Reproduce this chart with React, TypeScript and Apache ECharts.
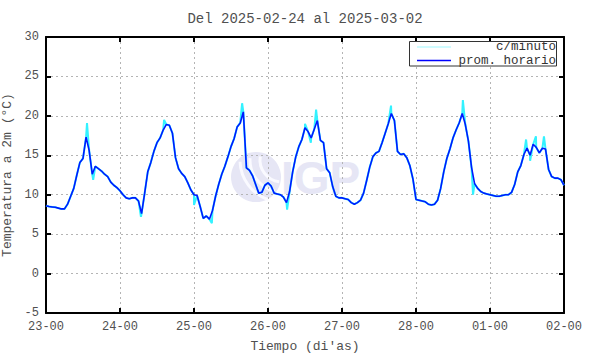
import React, { useEffect, useRef } from "react";
import * as echarts from "echarts";

const titleText = "Del 2025-02-24 al 2025-03-02";
const xAxisName = "Tiempo (di'as)";
const yAxisName = "Temperatura a 2m (°C)";
const seriesNames = ["c/minuto", "prom. horario"];
const xTickLabels = ["23-00", "24-00", "25-00", "26-00", "27-00", "28-00", "01-00", "02-00"];
const yMin = -5;
const yMax = 30;

// hourly averages, one value per hour starting at 23-00
const day1 = [8.6, 8.5, 8.45, 8.4, 8.3, 8.2, 8.2, 8.8, 9.8, 10.8, 12.5, 14.1, 14.6, 17.3, 15.6, 12.6, 13.6, 13.3, 13.0, 12.6, 12.3, 11.6, 11.2, 10.9];
const day2 = [10.5, 10.0, 9.6, 9.5, 9.6, 9.6, 9.2, 7.6, 10.2, 12.9, 14.1, 15.5, 16.6, 17.2, 18.2, 18.9, 18.8, 17.8, 14.7, 13.3, 12.7, 12.3, 11.5, 10.6];
const day3 = [10.0, 9.9, 8.5, 7.0, 7.3, 6.9, 8.0, 9.8, 11.3, 12.6, 13.6, 14.8, 16.1, 17.1, 18.6, 19.1, 20.5, 13.4, 13.1, 12.4, 11.3, 10.2, 10.3, 11.2];
const day4 = [11.5, 11.1, 10.2, 10.1, 10.0, 9.7, 9.0, 10.4, 12.9, 14.8, 16.1, 17.0, 18.5, 18.0, 17.2, 18.3, 19.4, 16.9, 16.6, 13.3, 12.8, 11.0, 9.8, 9.6];
const day5 = [9.6, 9.5, 9.4, 9.0, 8.8, 9.0, 9.3, 10.2, 11.8, 13.5, 14.8, 15.3, 15.5, 16.6, 17.8, 19.0, 20.3, 19.4, 15.5, 15.1, 15.2, 14.7, 13.7, 12.0];
const day6 = [9.4, 9.3, 9.2, 9.1, 8.8, 8.7, 8.8, 9.3, 10.8, 12.9, 14.6, 15.8, 17.2, 18.2, 19.1, 20.3, 18.9, 16.8, 13.5, 11.4, 10.8, 10.4, 10.2, 10.1];
const day7 = [10.0, 9.9, 9.8, 9.8, 9.9, 10.0, 10.0, 10.3, 11.3, 12.9, 13.7, 15.1, 15.9, 15.0, 16.4, 16.0, 15.3, 15.9, 15.8, 13.2, 12.3, 12.1, 12.1, 11.9, 11.2];

// per-minute extremes visible around the hourly curve: [hour since 23-00, value]
const minuteSpikes: [number, number][] = [
  [13.3, 19.1], [15.3, 11.9], [30.8, 7.2], [38.3, 19.5], [48.0, 8.7],
  [53.8, 6.4], [63.6, 21.6], [78.2, 8.1], [84.0, 19.0], [85.9, 16.6],
  [87.6, 20.8], [111.9, 21.3], [135.2, 22.0], [138.5, 10.0], [155.7, 17.0],
  [157.0, 14.3], [158.9, 17.4], [161.5, 17.4],
];

const hourly = [...day1, ...day2, ...day3, ...day4, ...day5, ...day6, ...day7];
const hourlyPoints: [number, number][] = hourly.map((v, i) => [i, v]);
const minutePoints: [number, number][] = [...hourlyPoints, ...minuteSpikes].sort((a, b) => a[0] - b[0]);

const FONT = "'Liberation Mono', 'DejaVu Sans Mono', monospace";
const TXT = "#505050";

export default function App() {
  const ref = useRef<HTMLDivElement>(null);
  useEffect(() => {
    if (!ref.current) return;
    const chart = echarts.init(ref.current, null, { renderer: "svg" });
    const gridL = 46, gridR = 26, gridT = 37, gridB = 41;
    const axisCommonX = {
      type: "value",
      min: 0,
      max: 168,
      interval: 24,
      axisLine: { show: true, onZero: false, lineStyle: { color: "#000", width: 2 } },
      axisTick: { show: true, inside: true, length: 5, lineStyle: { color: "#000", width: 2 } },
    };
    const axisCommonY = {
      type: "value",
      min: yMin,
      max: yMax,
      interval: 5,
      axisLine: { show: true, onZero: false, lineStyle: { color: "#000", width: 2 } },
      axisTick: { show: true, inside: true, length: 5, lineStyle: { color: "#000", width: 2 } },
    };
    chart.setOption({
      animation: false,
      backgroundColor: "#fff",
      grid: { left: gridL, right: gridR, top: gridT, bottom: gridB, containLabel: false, outerBoundsMode: "none" },
      xAxis: [
        {
          ...axisCommonX,
          position: "bottom",
          name: xAxisName,
          nameLocation: "middle",
          nameGap: 27,
          nameTextStyle: { color: TXT, fontFamily: FONT, fontSize: 13 },
          axisLabel: {
            color: TXT,
            fontFamily: FONT,
            fontSize: 12,
            margin: 8,
            formatter: (v: number) => xTickLabels[Math.round(v / 24)] ?? "",
          },
          splitLine: { show: true, lineStyle: { color: "#b4b4b4", type: [2, 3], width: 1 } },
        },
        {
          ...axisCommonX,
          position: "top",
          axisLabel: { show: false },
          splitLine: { show: false },
        },
      ],
      yAxis: [
        {
          ...axisCommonY,
          position: "left",
          name: yAxisName,
          nameLocation: "middle",
          nameGap: 25,
          nameTextStyle: { color: TXT, fontFamily: FONT, fontSize: 13 },
          axisLabel: { color: TXT, fontFamily: FONT, fontSize: 12, margin: 7 },
          splitLine: { show: true, lineStyle: { color: "#b4b4b4", type: [2, 3], width: 1 } },
        },
        {
          ...axisCommonY,
          position: "right",
          axisLabel: { show: false },
          splitLine: { show: false },
        },
      ],
      graphic: [
        {
          type: "text",
          style: {
            text: titleText,
            x: 305,
            y: 19,
            align: "center",
            verticalAlign: "middle",
            fill: TXT,
            font: `14px ${FONT}`,
          },
          z: 10,
        },
        // watermark
        {
          type: "group",
          z: 0,
          silent: true,
          children: [
            { type: "circle", shape: { cx: 256, cy: 177, r: 25 }, style: { fill: "#e6e6f5" }, z: 0 },
            { type: "arc", shape: { cx: 282, cy: 160, r: 22, startAngle: 1.7, endAngle: 3.3 }, style: { stroke: "#fafaff", lineWidth: 3, fill: "none" }, z: 0 },
            { type: "arc", shape: { cx: 282, cy: 160, r: 32, startAngle: 1.8, endAngle: 3.2 }, style: { stroke: "#fafaff", lineWidth: 3, fill: "none" }, z: 0 },
            { type: "arc", shape: { cx: 282, cy: 160, r: 42, startAngle: 1.9, endAngle: 3.1 }, style: { stroke: "#fafaff", lineWidth: 3, fill: "none" }, z: 0 },
            {
              type: "text",
              style: {
                text: "IGP",
                x: 281,
                y: 178,
                align: "left",
                verticalAlign: "middle",
                fill: "#e6e6f5",
                font: "bold 46px 'Liberation Sans', Arial, sans-serif",
              },
              z: 0,
            },
          ],
        },
        // legend box
        {
          type: "group",
          z: 20,
          children: [
            { type: "rect", shape: { x: 409.5, y: 41.5, width: 147, height: 24.5 }, style: { fill: "#fff", stroke: "#333", lineWidth: 1 }, z: 20 },
            { type: "line", shape: { x1: 417, y1: 47, x2: 451, y2: 47 }, style: { stroke: "#9ff8ff", lineWidth: 1 }, z: 21 },
            { type: "line", shape: { x1: 417, y1: 60.5, x2: 451, y2: 60.5 }, style: { stroke: "#0000ff", lineWidth: 1.3 }, z: 21 },
            {
              type: "text",
              style: { text: seriesNames[0], x: 556, y: 47, align: "right", verticalAlign: "middle", fill: "#333", font: `12.5px ${FONT}` },
              z: 21,
            },
            {
              type: "text",
              style: { text: seriesNames[1], x: 556, y: 60.5, align: "right", verticalAlign: "middle", fill: "#333", font: `12.5px ${FONT}` },
              z: 21,
            },
          ],
        },
      ],
      series: [
        {
          name: seriesNames[0],
          type: "line",
          data: minutePoints,
          showSymbol: false,
          symbol: "none",
          lineStyle: { color: "#33f2ff", width: 2 },
          z: 3,
          silent: true,
        },
        {
          name: seriesNames[1],
          type: "line",
          data: hourlyPoints,
          showSymbol: false,
          symbol: "none",
          lineStyle: { color: "#0018ff", width: 1.6 },
          z: 4,
          silent: true,
        },
      ],
    });
    return () => chart.dispose();
  }, []);
  return <div ref={ref} style={{ width: 590, height: 354, position: "absolute", left: 0, top: 0 }} />;
}
